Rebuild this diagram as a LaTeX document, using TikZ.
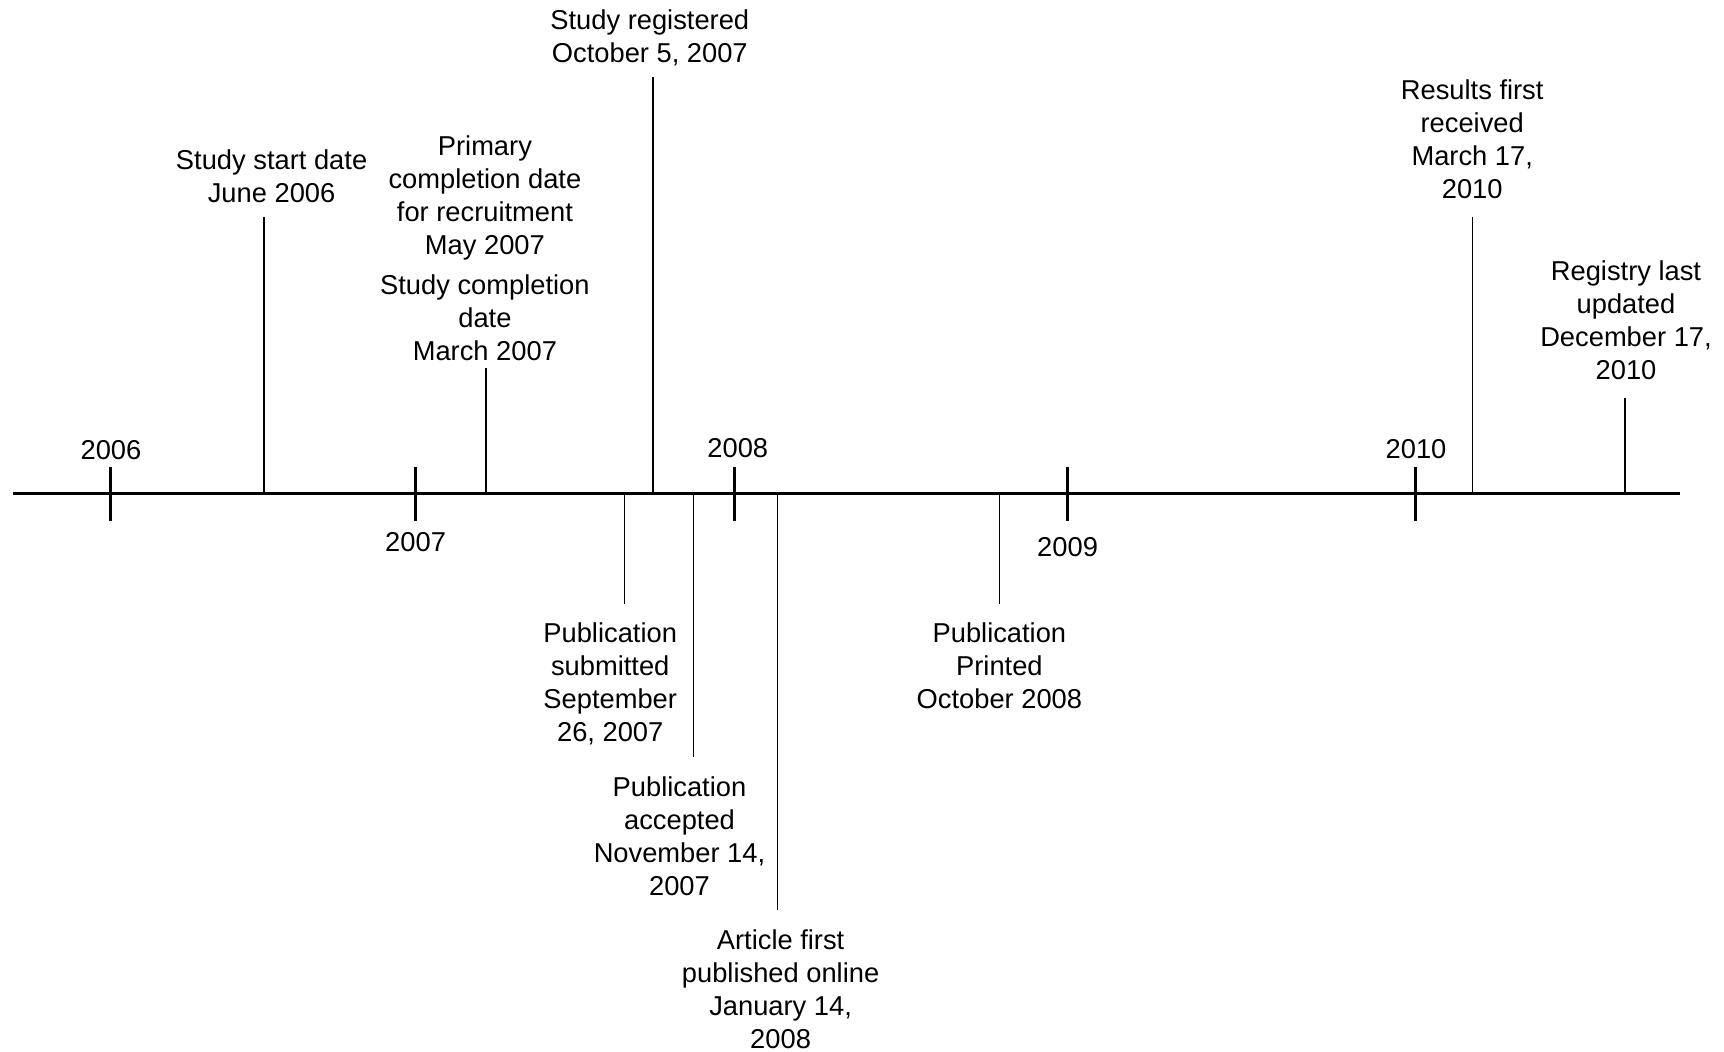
\documentclass[tikz,border=0pt]{standalone}
\usepackage{fontspec}
\setmainfont{Liberation Sans}
\begin{document}
\begin{tikzpicture}[x=1pt,y=-1pt,
  axis/.style={line width=3.3pt},
  yeartick/.style={line width=3pt},
  eventline/.style={line width=1.3pt},
  yearlbl/.style={inner sep=0pt, anchor=center, font=\fontsize{27.3}{33}\selectfont},
  lbl/.style={align=center, inner sep=0pt, anchor=north, font=\fontsize{27.3}{33}\selectfont},
]
\useasboundingbox (0,0) rectangle (1724,1052);

% main time axis
\coordinate (axL) at (13,493.7);
\coordinate (axR) at (1680,493.7);
\draw[axis] (axL) -- (axR);

% year ticks and labels
\foreach \nm/\x in {y2006/110, y2007/415.6, y2008/734.5, y2009/1067.6, y2010/1415}{
  \coordinate (\nm-t) at (\x,466.7);
  \coordinate (\nm-b) at (\x,520.7);
  \draw[yeartick] (\nm-t) -- (\nm-b);
}
\node[yearlbl] (l2006) at (111,450) {2006};
\node[yearlbl] (l2007) at (415.6,542) {2007};
\node[yearlbl] (l2008) at (737.8,448.5) {2008};
\node[yearlbl] (l2009) at (1067.6,547.5) {2009};
\node[yearlbl] (l2010) at (1416,448.6) {2010};

% events above the axis
\node[lbl] (start) at (271.6,146.2) {\strut Study start date\\June 2006};
\node[lbl] (primary) at (484.9,131.9) {\strut Primary\\completion date\\for recruitment\\May 2007};
\node[lbl] (complete) at (484.9,271.6) {\strut Study completion\\date\\March 2007};
\node[lbl] (registered) at (649.8,6.6) {\strut Study registered\\October 5, 2007};
\node[lbl] (results) at (1472.2,75.8) {\strut Results first\\received\\March 17,\\2010};
\node[lbl] (registry) at (1626,257.3) {\strut Registry last\\updated\\December 17,\\2010};

% events below the axis
\node[lbl] (submitted) at (610.2,619) {\strut Publication\\submitted\\September\\26, 2007};
\node[lbl] (accepted) at (679.5,772.9) {\strut Publication\\accepted\\November 14,\\2007};
\node[lbl] (online) at (780.6,925.8) {\strut Article first\\published online\\January 14,\\2008};
\node[lbl] (printed) at (999.4,619) {\strut Publication\\Printed\\October 2008};

% event markers
\foreach \nm/\x/\y in {start/263.9/216.6, complete/486/368, registered/653/77,
  results/1472.2/216.6, registry/1625/398,
  submitted/624.5/603.6, accepted/693.8/756.5, online/777.3/910.4, printed/999.4/603.6}{
  \coordinate (\nm-a) at (\x,493.7);
  \coordinate (\nm-e) at (\x,\y);
  \draw[eventline] (\nm-a) -- (\nm-e);
}
\end{tikzpicture}
\end{document}
